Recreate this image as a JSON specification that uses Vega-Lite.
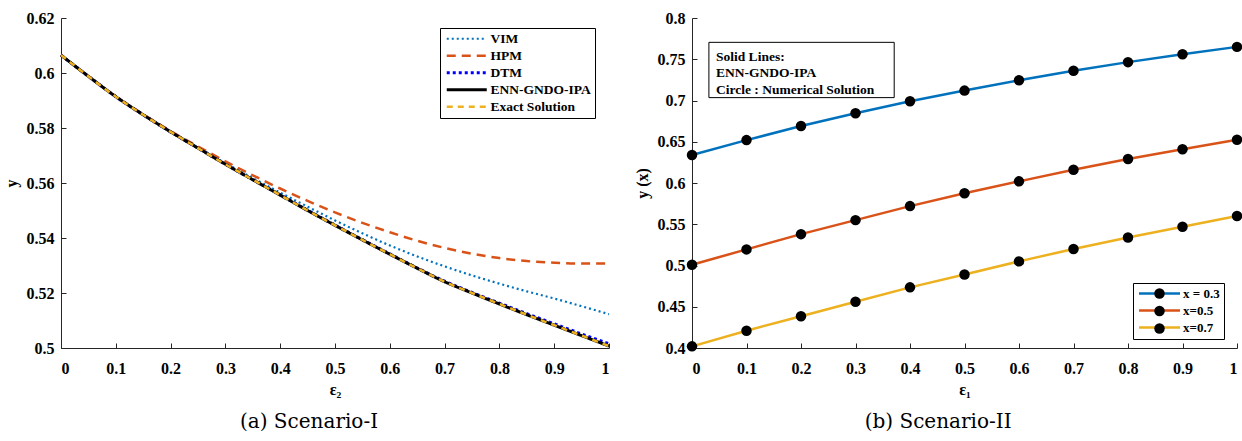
{
  "$schema": "https://vega.github.io/schema/vega-lite/v6.json",
  "background": "white",
  "padding": {"left": 3, "right": 2, "top": 10, "bottom": 5},
  "spacing": 19,
  "resolve": {"scale": {"color": "independent", "strokeDash": "independent", "strokeWidth": "independent", "shape": "independent", "x": "independent", "y": "independent"}, "legend": {"color": "independent", "strokeDash": "independent", "strokeWidth": "independent", "shape": "independent"}},
  "datasets": {
    "left": [
      {"x":0,"y":0.6065,"m":"VIM"},{"x":0.05,"y":0.5988,"m":"VIM"},{"x":0.1,"y":0.5914,"m":"VIM"},{"x":0.15,"y":0.5848,"m":"VIM"},{"x":0.2,"y":0.5787,"m":"VIM"},{"x":0.25,"y":0.5729,"m":"VIM"},{"x":0.3,"y":0.5672,"m":"VIM"},{"x":0.35,"y":0.5618,"m":"VIM"},{"x":0.4,"y":0.5565,"m":"VIM"},{"x":0.45,"y":0.5514,"m":"VIM"},{"x":0.5,"y":0.5464,"m":"VIM"},{"x":0.55,"y":0.5417,"m":"VIM"},{"x":0.6,"y":0.5373,"m":"VIM"},{"x":0.65,"y":0.5333,"m":"VIM"},{"x":0.7,"y":0.5297,"m":"VIM"},{"x":0.75,"y":0.5264,"m":"VIM"},{"x":0.8,"y":0.5234,"m":"VIM"},{"x":0.85,"y":0.5206,"m":"VIM"},{"x":0.9,"y":0.518,"m":"VIM"},{"x":0.95,"y":0.5152,"m":"VIM"},{"x":1,"y":0.5123,"m":"VIM"},
      {"x":0,"y":0.6065,"m":"HPM"},{"x":0.05,"y":0.5988,"m":"HPM"},{"x":0.1,"y":0.5915,"m":"HPM"},{"x":0.15,"y":0.585,"m":"HPM"},{"x":0.2,"y":0.5789,"m":"HPM"},{"x":0.25,"y":0.5733,"m":"HPM"},{"x":0.3,"y":0.5679,"m":"HPM"},{"x":0.35,"y":0.5628,"m":"HPM"},{"x":0.4,"y":0.558,"m":"HPM"},{"x":0.45,"y":0.5535,"m":"HPM"},{"x":0.5,"y":0.5493,"m":"HPM"},{"x":0.55,"y":0.5455,"m":"HPM"},{"x":0.6,"y":0.5421,"m":"HPM"},{"x":0.65,"y":0.539,"m":"HPM"},{"x":0.7,"y":0.5364,"m":"HPM"},{"x":0.75,"y":0.5343,"m":"HPM"},{"x":0.8,"y":0.5327,"m":"HPM"},{"x":0.85,"y":0.5316,"m":"HPM"},{"x":0.9,"y":0.531,"m":"HPM"},{"x":0.95,"y":0.5307,"m":"HPM"},{"x":1,"y":0.5307,"m":"HPM"},
      {"x":0,"y":0.6065,"m":"DTM"},{"x":0.05,"y":0.5988,"m":"DTM"},{"x":0.1,"y":0.5914,"m":"DTM"},{"x":0.15,"y":0.5848,"m":"DTM"},{"x":0.2,"y":0.5786,"m":"DTM"},{"x":0.25,"y":0.5727,"m":"DTM"},{"x":0.3,"y":0.5668,"m":"DTM"},{"x":0.35,"y":0.5612,"m":"DTM"},{"x":0.4,"y":0.5557,"m":"DTM"},{"x":0.45,"y":0.5501,"m":"DTM"},{"x":0.5,"y":0.5447,"m":"DTM"},{"x":0.55,"y":0.5394,"m":"DTM"},{"x":0.6,"y":0.5342,"m":"DTM"},{"x":0.65,"y":0.5291,"m":"DTM"},{"x":0.7,"y":0.5243,"m":"DTM"},{"x":0.75,"y":0.5202,"m":"DTM"},{"x":0.8,"y":0.5163,"m":"DTM"},{"x":0.85,"y":0.5125,"m":"DTM"},{"x":0.9,"y":0.5088,"m":"DTM"},{"x":0.95,"y":0.5051,"m":"DTM"},{"x":1,"y":0.5015,"m":"DTM"},
      {"x":0,"y":0.6065,"m":"ENN-GNDO-IPA"},{"x":0.05,"y":0.5988,"m":"ENN-GNDO-IPA"},{"x":0.1,"y":0.5914,"m":"ENN-GNDO-IPA"},{"x":0.15,"y":0.5848,"m":"ENN-GNDO-IPA"},{"x":0.2,"y":0.5786,"m":"ENN-GNDO-IPA"},{"x":0.25,"y":0.5727,"m":"ENN-GNDO-IPA"},{"x":0.3,"y":0.5668,"m":"ENN-GNDO-IPA"},{"x":0.35,"y":0.5612,"m":"ENN-GNDO-IPA"},{"x":0.4,"y":0.5556,"m":"ENN-GNDO-IPA"},{"x":0.45,"y":0.55,"m":"ENN-GNDO-IPA"},{"x":0.5,"y":0.5446,"m":"ENN-GNDO-IPA"},{"x":0.55,"y":0.5393,"m":"ENN-GNDO-IPA"},{"x":0.6,"y":0.5341,"m":"ENN-GNDO-IPA"},{"x":0.65,"y":0.529,"m":"ENN-GNDO-IPA"},{"x":0.7,"y":0.5241,"m":"ENN-GNDO-IPA"},{"x":0.75,"y":0.52,"m":"ENN-GNDO-IPA"},{"x":0.8,"y":0.516,"m":"ENN-GNDO-IPA"},{"x":0.85,"y":0.5121,"m":"ENN-GNDO-IPA"},{"x":0.9,"y":0.5083,"m":"ENN-GNDO-IPA"},{"x":0.95,"y":0.5045,"m":"ENN-GNDO-IPA"},{"x":1,"y":0.5007,"m":"ENN-GNDO-IPA"},
      {"x":0,"y":0.6065,"m":"Exact Solution"},{"x":0.05,"y":0.5988,"m":"Exact Solution"},{"x":0.1,"y":0.5914,"m":"Exact Solution"},{"x":0.15,"y":0.5848,"m":"Exact Solution"},{"x":0.2,"y":0.5786,"m":"Exact Solution"},{"x":0.25,"y":0.5727,"m":"Exact Solution"},{"x":0.3,"y":0.5668,"m":"Exact Solution"},{"x":0.35,"y":0.5612,"m":"Exact Solution"},{"x":0.4,"y":0.5556,"m":"Exact Solution"},{"x":0.45,"y":0.55,"m":"Exact Solution"},{"x":0.5,"y":0.5446,"m":"Exact Solution"},{"x":0.55,"y":0.5393,"m":"Exact Solution"},{"x":0.6,"y":0.5341,"m":"Exact Solution"},{"x":0.65,"y":0.529,"m":"Exact Solution"},{"x":0.7,"y":0.5241,"m":"Exact Solution"},{"x":0.75,"y":0.52,"m":"Exact Solution"},{"x":0.8,"y":0.516,"m":"Exact Solution"},{"x":0.85,"y":0.5121,"m":"Exact Solution"},{"x":0.9,"y":0.5083,"m":"Exact Solution"},{"x":0.95,"y":0.5045,"m":"Exact Solution"},{"x":1,"y":0.5007,"m":"Exact Solution"}
    ],
    "right": [
      {"x":0,"y":0.634,"s":"x = 0.3"},{"x":0.1,"y":0.652,"s":"x = 0.3"},{"x":0.2,"y":0.669,"s":"x = 0.3"},{"x":0.3,"y":0.6845,"s":"x = 0.3"},{"x":0.4,"y":0.699,"s":"x = 0.3"},{"x":0.5,"y":0.712,"s":"x = 0.3"},{"x":0.6,"y":0.7245,"s":"x = 0.3"},{"x":0.7,"y":0.736,"s":"x = 0.3"},{"x":0.8,"y":0.7465,"s":"x = 0.3"},{"x":0.9,"y":0.756,"s":"x = 0.3"},{"x":1,"y":0.765,"s":"x = 0.3"},
      {"x":0,"y":0.501,"s":"x=0.5"},{"x":0.1,"y":0.5195,"s":"x=0.5"},{"x":0.2,"y":0.538,"s":"x=0.5"},{"x":0.3,"y":0.555,"s":"x=0.5"},{"x":0.4,"y":0.572,"s":"x=0.5"},{"x":0.5,"y":0.5875,"s":"x=0.5"},{"x":0.6,"y":0.602,"s":"x=0.5"},{"x":0.7,"y":0.616,"s":"x=0.5"},{"x":0.8,"y":0.629,"s":"x=0.5"},{"x":0.9,"y":0.641,"s":"x=0.5"},{"x":1,"y":0.6525,"s":"x=0.5"},
      {"x":0,"y":0.402,"s":"x=0.7"},{"x":0.1,"y":0.421,"s":"x=0.7"},{"x":0.2,"y":0.4385,"s":"x=0.7"},{"x":0.3,"y":0.456,"s":"x=0.7"},{"x":0.4,"y":0.4735,"s":"x=0.7"},{"x":0.5,"y":0.489,"s":"x=0.7"},{"x":0.6,"y":0.505,"s":"x=0.7"},{"x":0.7,"y":0.52,"s":"x=0.7"},{"x":0.8,"y":0.534,"s":"x=0.7"},{"x":0.9,"y":0.547,"s":"x=0.7"},{"x":1,"y":0.56,"s":"x=0.7"}
    ]
  },
  "config": {
    "view": {"stroke": null},
    "axis": {
      "grid": false,
      "domainColor": "#262626",
      "tickColor": "#262626",
      "domainWidth": 1,
      "tickWidth": 1,
      "tickSize": -5,
      "labelFont": "Liberation Serif",
      "labelFontWeight": "bold",
      "labelFontSize": 16,
      "labelColor": "black",
      "titleFont": "Liberation Serif",
      "titleFontWeight": "bold",
      "titleFontSize": 16,
      "titleColor": "black"
    },
    "axisX": {"labelPadding": 17, "titlePadding": 5},
    "axisY": {"labelPadding": 12, "titlePadding": 7}
  },
  "hconcat": [
    {
      "width": 548,
      "height": 330,
      "title": {"text": "(a) Scenario-I", "orient": "bottom", "frame": "bounds", "anchor": "middle", "font": "DejaVu Serif", "fontSize": 20, "fontWeight": "normal", "color": "black", "offset": 15},
      "data": {"name": "left"},
      "mark": {"type": "line", "interpolate": "monotone"},
      "encoding": {
        "x": {"field": "x", "type": "quantitative", "scale": {"domain": [0, 1], "nice": false},
              "axis": {"values": [0,0.1,0.2,0.3,0.4,0.5,0.6,0.7,0.8,0.9,1], "format": "~g", "title": "ε₂"}},
        "y": {"field": "y", "type": "quantitative", "scale": {"domain": [0.5, 0.62], "nice": false, "zero": false},
              "axis": {"values": [0.5,0.52,0.54,0.56,0.58,0.6,0.62], "format": "~g", "title": "y"}},
        "color": {"field": "m", "type": "nominal",
          "scale": {"domain": ["VIM","HPM","DTM","ENN-GNDO-IPA","Exact Solution"], "range": ["#0072BD","#D95319","#0000FF","#000000","#EDB120"]},
          "legend": {"orient": "none", "legendX": 379, "legendY": 10, "title": null,
            "symbolType": "M -4,0 L 4,0", "symbolSize": 100, "symbolOffset": 16, "labelOffset": 17,
            "padding": 4, "rowPadding": 2, "strokeColor": "black", "fillColor": "white", "cornerRadius": 0,
            "labelFont": "Liberation Serif", "labelFontWeight": "bold", "labelFontSize": 13.5, "labelColor": "black"}},
        "strokeDash": {"field": "m", "type": "nominal",
          "scale": {"domain": ["VIM","HPM","DTM","ENN-GNDO-IPA","Exact Solution"], "range": [[2,3],[9,6],[3,3],[1,0],[6,5]]}},
        "strokeWidth": {"field": "m", "type": "nominal",
          "scale": {"type": "ordinal", "domain": ["VIM","HPM","DTM","ENN-GNDO-IPA","Exact Solution"], "range": [2.2,2.5,3,3,2.5]}}
      }
    },
    {
      "width": 545,
      "height": 330,
      "title": {"text": "(b) Scenario-II", "orient": "bottom", "frame": "bounds", "anchor": "middle", "font": "DejaVu Serif", "fontSize": 20, "fontWeight": "normal", "color": "black", "offset": 15},
      "layer": [
        {
          "data": {"name": "right"},
          "mark": {"type": "line", "strokeWidth": 2.5},
          "encoding": {
            "x": {"field": "x", "type": "quantitative", "scale": {"domain": [0, 1], "nice": false},
                  "axis": {"values": [0,0.1,0.2,0.3,0.4,0.5,0.6,0.7,0.8,0.9,1], "format": "~g", "title": "ε₁"}},
            "y": {"field": "y", "type": "quantitative", "scale": {"domain": [0.4, 0.8], "nice": false, "zero": false},
                  "axis": {"values": [0.4,0.45,0.5,0.55,0.6,0.65,0.7,0.75,0.8], "format": "~g", "title": "y (x)"}},
            "color": {"field": "s", "type": "nominal",
              "scale": {"domain": ["x = 0.3","x=0.5","x=0.7"], "range": ["#0072BD","#D95319","#EDB120"]},
              "legend": {"orient": "none", "legendX": 441, "legendY": 265, "title": null,
                "symbolType": "M -4.1,0 L 4.1,0", "symbolSize": 100, "symbolStrokeWidth": 2.5, "symbolOffset": 16, "labelOffset": 17,
                "padding": 4, "rowPadding": 3, "strokeColor": "black", "fillColor": "white", "cornerRadius": 0,
                "labelFont": "Liberation Serif", "labelFontWeight": "bold", "labelFontSize": 13, "labelColor": "black"}}
          }
        },
        {
          "data": {"name": "right"},
          "mark": {"type": "point", "filled": true, "color": "black", "size": 110, "opacity": 1},
          "encoding": {
            "x": {"field": "x", "type": "quantitative"},
            "y": {"field": "y", "type": "quantitative"},
            "shape": {"field": "s", "type": "nominal", "scale": {"range": ["circle","circle","circle"]},
              "legend": {"orient": "none", "legendX": 441, "legendY": 265, "title": null, "zindex": 2,
                "symbolSize": 110, "symbolOffset": 16, "labelOffset": 17, "symbolFillColor": "black", "symbolStrokeColor": "black", "symbolOpacity": 1,
                "padding": 4, "rowPadding": 0.5, "labelOpacity": 0,
                "labelFont": "Liberation Serif", "labelFontWeight": "bold", "labelFontSize": 13}}
          }
        },
        {
          "data": {"values": [{}]},
          "mark": {"type": "rect", "fill": "white", "stroke": "black", "strokeWidth": 1},
          "encoding": {"x": {"datum": 0.031}, "x2": {"datum": 0.371}, "y": {"datum": 0.7705}, "y2": {"datum": 0.7035}}
        },
        {
          "data": {"values": [{}]},
          "mark": {"type": "text", "align": "left", "baseline": "top", "font": "Liberation Serif", "fontWeight": "bold", "fontSize": 13.5, "color": "black", "lineHeight": 16.5},
          "encoding": {"x": {"datum": 0.044}, "y": {"datum": 0.7615}, "text": {"value": ["Solid Lines:", "ENN-GNDO-IPA", "Circle : Numerical Solution"]}}
        }
      ]
    }
  ]
}
